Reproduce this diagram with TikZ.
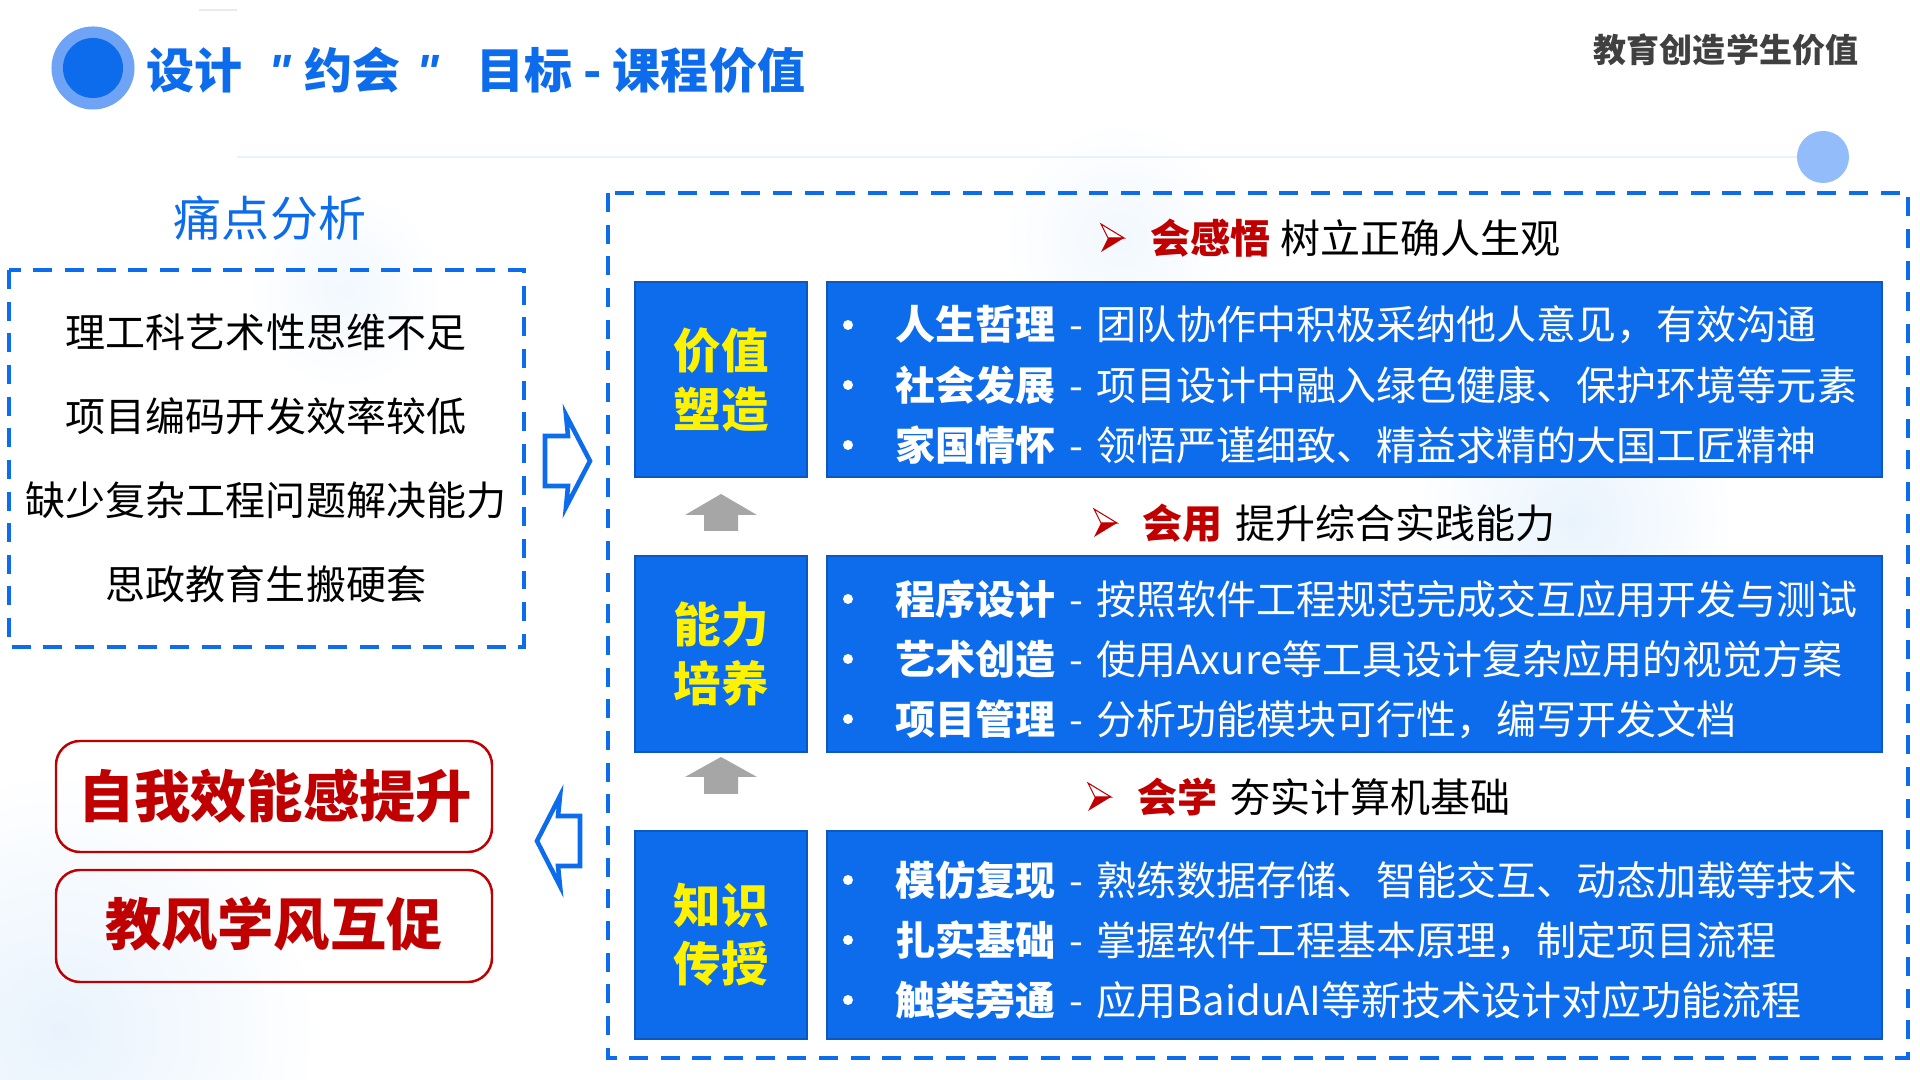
\documentclass[tikz,border=0pt]{standalone}
\usepackage{fontspec}
\setmainfont{Noto Sans CJK SC}
\newfontfamily\quotefont{Liberation Sans}
\usetikzlibrary{shapes.geometric}
\definecolor{mainblue}{HTML}{0D6CEC}
\definecolor{darkblue}{HTML}{0A58C0}
\definecolor{softblue}{HTML}{6FA3F5}
\definecolor{dotblue}{HTML}{93BDFA}
\definecolor{ruleblue}{HTML}{E8F1FC}
\definecolor{glowblue}{HTML}{E9F3FD}
\definecolor{darkred}{HTML}{C00000}
\definecolor{headgray}{HTML}{A6A6A6}
\tikzset{
  dashbox/.style={draw=mainblue,line width=1.2pt,dash pattern=on 5.4pt off 3.6pt},
  bluebox/.style={draw=darkblue,fill=mainblue,line width=0.6pt},
  redbox/.style={draw=darkred,line width=0.7pt,rounded corners=0.24cm},
  blockarrow/.style={draw=mainblue,fill=white,line width=1.3pt,miter limit=20},
  grayarrow/.style={fill=headgray},
  painitem/.style={font=\fontsize{11.38}{13}\selectfont,text=black,inner sep=0pt},
  bigred/.style={font=\fontsize{16}{18}\selectfont\bfseries,text=darkred,inner sep=0pt},
  boxlabel/.style={font=\fontsize{13.5}{16.5}\selectfont\bfseries,text=yellow,align=center,inner sep=0pt},
  rowtext/.style={font=\fontsize{11.38}{13}\selectfont,text=white,anchor=west,inner sep=0pt},
  headtext/.style={font=\fontsize{11.38}{13}\selectfont,text=black,anchor=west,inner sep=0pt},
  rowdot/.style={circle,fill=white,minimum size=0.1cm,inner sep=0pt},
}
% one line inside a blue box
\newcommand{\rowline}[4]{
  \node [rowdot] (#1dot) at (848,#2) {};
  \node [rowtext] (#1) at (895,#2) {\textbf{#3}\hspace{0.135cm}-\hspace{0.135cm}#4};
}
% little red pointer in front of a heading
\newcommand{\pointer}[2]{
  \begin{scope}[shift={(#1,#2)}]
    \filldraw [darkred,fill=white,line width=0.3pt] (0,-14) -- (23,0) -- (7,0) -- cycle;
    \fill [darkred] (0,14) -- (23,0) -- (7,0) -- cycle;
  \end{scope}
}
\begin{document}
\begin{tikzpicture}[x=0.01cm,y=-0.01cm]
\useasboundingbox (0,0) rectangle (1920,1080);

% soft background glows
\shade [inner color=glowblue,outer color=white] (60,1030) circle (2.6cm);
\shade [inner color=glowblue!60,outer color=white] (345,290) circle (1.0cm);
\shade [inner color=glowblue,outer color=white] (1575,520) circle (1.6cm);
\shade [inner color=glowblue!60,outer color=white] (1120,240) circle (1.2cm);

% title row
\fill [ruleblue!70!gray!40] (199,9.5) rectangle (237,11.5);
\node [circle,fill=softblue,minimum size=0.83cm,inner sep=0pt] (bigdot) at (93,68) {};
\node [circle,fill=mainblue,minimum size=0.6cm,inner sep=0pt] (smalldot) at (93,68) {};
\node [font=\fontsize{13.66}{16}\selectfont\bfseries,text=mainblue,anchor=west,inner sep=0pt] (title) at (146,70)
  {设计\hspace{0.26cm}{\quotefont\itshape"}\hspace{0.13cm}约会\hspace{0.16cm}{\quotefont\itshape"}\hspace{0.37cm}目标\hspace{0.11cm}-\hspace{0.11cm}课程价值};
\node [font=\fontsize{9.39}{11}\selectfont\bfseries,text=black!75,inner sep=0pt] (motto) at (1726,50) {教育创造学生价值};
\draw [ruleblue,line width=0.7pt] (237,157) -- (1823,157);
\node [circle,fill=dotblue,minimum size=0.52cm,inner sep=0pt] (ruledot) at (1823,157) {};

% pain points
\node [font=\fontsize{13.66}{16}\selectfont,text=mainblue,inner sep=0pt] (painhead) at (270,218) {痛点分析};
\draw [dashbox] (9,270) rectangle (524,647);
\node [painitem] (pain1) at (266,332) {理工科艺术性思维不足};
\node [painitem] (pain2) at (266,416) {项目编码开发效率较低};
\node [painitem] (pain3) at (266,500) {缺少复杂工程问题解决能力};
\node [painitem] (pain4) at (266,584) {思政教育生搬硬套};

% results
\draw [redbox] (56,741) rectangle (492,852);
\node [bigred] (gain1) at (275,796) {自我效能感提升};
\draw [redbox] (56,870) rectangle (492,982);
\node [bigred] (gain2) at (274,924) {教风学风互促};

% big outlined arrows
\draw [blockarrow] (545,436) -- (568,436) -- (566,415) -- (590,461) -- (566,507) -- (568,486) -- (545,486) -- cycle;
\draw [blockarrow] (580,816) -- (558,816) -- (560,796) -- (537,841) -- (560,886) -- (558,866) -- (580,866) -- cycle;

% right frame
\draw [dashbox] (608,193) rectangle (1908,1058);

% headings
\pointer{1101}{238}
\node [headtext] (head1) at (1150,238) {\textcolor{darkred}{\bfseries 会感悟}\hspace{0.10cm}树立正确人生观};
\pointer{1094}{523}
\node [headtext] (head2) at (1142,523) {\textcolor{darkred}{\bfseries 会用}\hspace{0.13cm}提升综合实践能力};
\pointer{1088}{797}
\node [headtext] (head3) at (1137,797) {\textcolor{darkred}{\bfseries 会学}\hspace{0.13cm}夯实计算机基础};

% top block
\draw [bluebox] (635,282) rectangle (807,477);
\node [boxlabel] (label1) at (721,380) {价值\\塑造};
\draw [bluebox] (827,282) rectangle (1882,477);
\rowline{top1}{325}{人生哲理}{团队协作中积极采纳他人意见，有效沟通}
\rowline{top2}{385}{社会发展}{项目设计中融入绿色健康、保护环境等元素}
\rowline{top3}{445}{家国情怀}{领悟严谨细致、精益求精的大国工匠精神}

% middle block
\draw [bluebox] (635,556) rectangle (807,752);
\node [boxlabel] (label2) at (721,654) {能力\\培养};
\draw [bluebox] (827,556) rectangle (1882,752);
\rowline{mid1}{599}{程序设计}{按照软件工程规范完成交互应用开发与测试}
\rowline{mid2}{659}{艺术创造}{使用Axure等工具设计复杂应用的视觉方案}
\rowline{mid3}{719}{项目管理}{分析功能模块可行性，编写开发文档}

% bottom block
\draw [bluebox] (635,831) rectangle (807,1039);
\node [boxlabel] (label3) at (721,935) {知识\\传授};
\draw [bluebox] (827,831) rectangle (1882,1039);
\rowline{low1}{880}{模仿复现}{熟练数据存储、智能交互、动态加载等技术}
\rowline{low2}{940}{扎实基础}{掌握软件工程基本原理，制定项目流程}
\rowline{low3}{1000}{触类旁通}{应用BaiduAI等新技术设计对应功能流程}

% gray arrows between blocks
\fill [grayarrow] (721,494) -- (757,515) -- (738,515) -- (738,531) -- (704,531) -- (704,515) -- (685,515) -- cycle;
\fill [grayarrow] (721,757) -- (757,777) -- (738,777) -- (738,794) -- (704,794) -- (704,777) -- (685,777) -- cycle;
\end{tikzpicture}
\end{document}
